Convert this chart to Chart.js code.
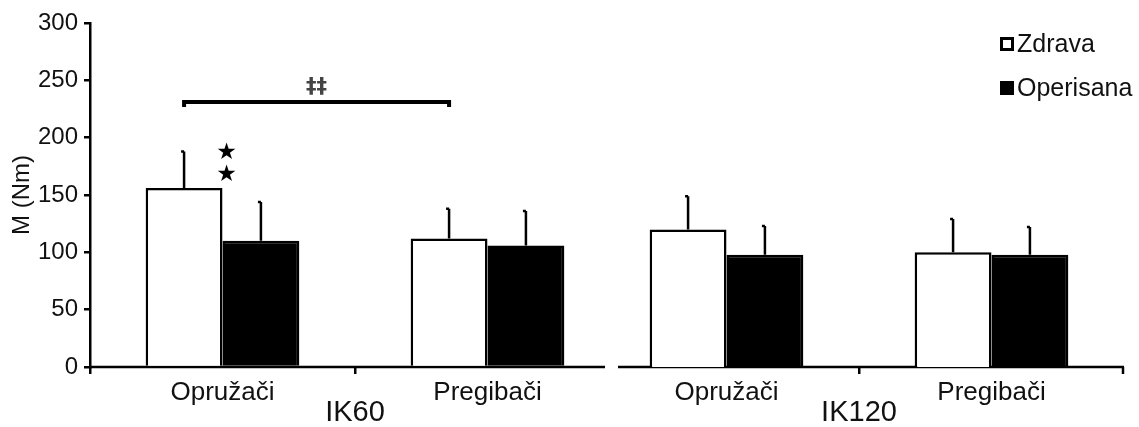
<!DOCTYPE html>
<html>
<head>
<meta charset="utf-8">
<script src="https://cdn.jsdelivr.net/npm/chart.js@4/dist/chart.umd.min.js"></script>
<style>
  html, body { margin: 0; padding: 0; background: #fff; }
  #wrap { position: relative; width: 1139px; height: 427px; overflow: hidden; }
  canvas { position: absolute; top: 0; }
  #c1 { left: 0; }
  #c2 { left: 590px; }
</style>
</head>
<body>
<div id="wrap">
  <canvas id="c1" width="625" height="427"></canvas>
  <canvas id="c2" width="549" height="427"></canvas>
</div>
<script>
// categories and groups
const categories = ['Opružači', 'Pregibači'];
const groups = ['IK60', 'IK120'];
const seriesNames = ['Zdrava', 'Operisana'];

// mean values (Nm)
const zdravaIK60 = [156, 112];
const operisanaIK60 = [110, 106];
const zdravaIK120 = [120, 100];
const operisanaIK120 = [98, 98];

// standard deviations (upper whisker only)
const errZdravaIK60 = [32, 26];
const errOperisanaIK60 = [34, 30];
const errZdravaIK120 = [29, 29];
const errOperisanaIK120 = [25, 24];

// y axis
const yMin = 0;
const yMax = 300;
const yStep = 50;

// significance marks (in Nm)
const bracketLevel = 231;
const daggerLevel = 244;
const starLevels = [187, 167];

const FONT = "'Liberation Sans', Arial, sans-serif";

// error bars drawn from the datasets' own errors
const errorBars = {
  id: 'errorBars',
  afterDatasetsDraw(chart) {
    const ctx = chart.ctx;
    const y = chart.scales.y;
    ctx.save();
    ctx.strokeStyle = '#000';
    ctx.lineWidth = 2.5;
    chart.data.datasets.forEach((ds, i) => {
      const meta = chart.getDatasetMeta(i);
      meta.data.forEach((bar, j) => {
        const top = y.getPixelForValue(ds.data[j] + ds.errors[j]);
        ctx.beginPath();
        ctx.moveTo(bar.x, bar.y);
        ctx.lineTo(bar.x, top);
        ctx.moveTo(bar.x - 3, top);
        ctx.lineTo(bar.x, top);
        ctx.stroke();
      });
    });
    ctx.restore();
  }
};

// x axis line with a little gap where the two panels meet
const axisLine = {
  id: 'axisLine',
  beforeDatasetsDraw(chart, args, opts) {
    const a = chart.chartArea;
    const ctx = chart.ctx;
    ctx.save();
    ctx.strokeStyle = '#000';
    ctx.lineWidth = 2.5;
    ctx.beginPath();
    ctx.moveTo(a.left + opts.startCut, a.bottom);
    ctx.lineTo(a.right - opts.endCut, a.bottom);
    if (opts.endTick) {
      ctx.moveTo(a.right - 1, a.bottom);
      ctx.lineTo(a.right - 1, a.bottom + 7);
    }
    ctx.stroke();
    ctx.restore();
  }
};

// bracket, double daggers and stars on the IK60 panel
const signif = {
  id: 'signif',
  afterDatasetsDraw(chart, args, opts) {
    if (!opts.show) return;
    const ctx = chart.ctx;
    const y = chart.scales.y;
    const m0 = chart.getDatasetMeta(0).data;
    const x1 = m0[0].x, x2 = m0[1].x;
    const by = y.getPixelForValue(bracketLevel);
    ctx.save();
    ctx.strokeStyle = '#000';
    ctx.lineWidth = 4;
    ctx.beginPath();
    ctx.moveTo(x1, by + 5);
    ctx.lineTo(x1, by);
    ctx.lineTo(x2, by);
    ctx.lineTo(x2, by + 5);
    ctx.stroke();

    ctx.fillStyle = '#444';
    ctx.textAlign = 'center';
    ctx.textBaseline = 'middle';
    ctx.font = "bold 21px 'DejaVu Sans', sans-serif";
    ctx.fillText('‡‡', (x1 + x2) / 2, y.getPixelForValue(daggerLevel));

    const sx = m0[0].x + m0[0].width / 2 + 4;
    ctx.fillStyle = '#000';
    ctx.font = "23px 'DejaVu Sans', sans-serif";
    starLevels.forEach(v => ctx.fillText('★', sx, y.getPixelForValue(v)));
    ctx.restore();
  }
};

// vertical legend at the top right
const sideLegend = {
  id: 'sideLegend',
  afterDraw(chart, args, opts) {
    if (!opts.show) return;
    const ctx = chart.ctx;
    const x = chart.width - 139;
    const rows = [44, 88];
    ctx.save();
    ctx.font = '25px ' + FONT;
    ctx.textBaseline = 'middle';
    ctx.textAlign = 'left';
    chart.data.datasets.forEach((ds, i) => {
      const cy = rows[i];
      ctx.fillStyle = '#000';
      ctx.fillRect(x, cy - 7, 14, 14);
      if (ds.backgroundColor !== '#000') {
        ctx.fillStyle = ds.backgroundColor;
        ctx.fillRect(x + 3, cy - 4, 8, 8);
      }
      ctx.fillStyle = '#111';
      ctx.fillText(ds.label, x + 17, cy + 1);
    });
    ctx.restore();
  }
};

function makeChart(canvasId, group, zdrava, operisana, errZ, errO, panel) {
  const first = panel === 0;
  return new Chart(document.getElementById(canvasId), {
    type: 'bar',
    data: {
      labels: categories,
      datasets: [
        { label: seriesNames[0], data: zdrava, errors: errZ,
          backgroundColor: '#fff', borderColor: '#000', borderWidth: 2.5 },
        { label: seriesNames[1], data: operisana, errors: errO,
          backgroundColor: '#000', borderColor: '#000', borderWidth: 2.5 }
      ]
    },
    options: {
      responsive: false,
      animation: false,
      barPercentage: 1,
      categoryPercentage: 0.58,
      layout: { padding: { left: first ? 0 : 4, right: first ? 5 : 15, top: 23, bottom: 0 } },
      plugins: {
        legend: { display: false },
        tooltip: { enabled: false },
        axisLine: { startCut: first ? 0 : 24, endCut: first ? 15 : 0, endTick: !first },
        signif: { show: first },
        sideLegend: { show: !first }
      },
      scales: {
        x: {
          grid: {
            drawOnChartArea: false,
            tickLength: 7,
            lineWidth: 2.5,
            color: c => (first ? c.index < 2 : c.index === 1) ? '#000' : 'rgba(0,0,0,0)'
          },
          border: { display: false },
          ticks: { color: '#111', padding: 3, font: { family: FONT, size: 26 } },
          title: {
            display: true, text: group, color: '#111',
            font: { family: FONT, size: 29, lineHeight: 1.0 }, padding: { top: 0, bottom: 0 }
          },
          afterFit: s => { s.height = 60; }
        },
        y: {
          display: first,
          min: yMin, max: yMax,
          ticks: { stepSize: yStep, color: '#111', padding: 6, font: { family: FONT, size: 24 } },
          grid: { drawOnChartArea: false, tickLength: 6, lineWidth: 2.5, color: '#000' },
          border: { display: true, width: 2.5, color: '#000' },
          title: {
            display: true, text: 'M (Nm)', color: '#111',
            font: { family: FONT, size: 24 }, padding: { top: 8, bottom: 0 }
          },
          afterFit: s => { if (first) s.width = 90; }
        }
      }
    },
    plugins: [axisLine, errorBars, signif, sideLegend]
  });
}

makeChart('c1', groups[0], zdravaIK60, operisanaIK60, errZdravaIK60, errOperisanaIK60, 0);
makeChart('c2', groups[1], zdravaIK120, operisanaIK120, errZdravaIK120, errOperisanaIK120, 1);
</script>
</body>
</html>
